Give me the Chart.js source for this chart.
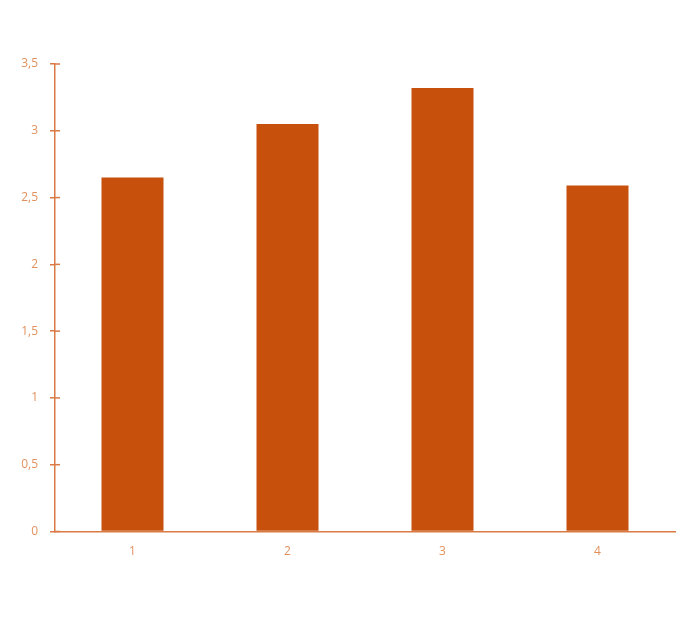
<!DOCTYPE html>
<html>
<head>
<meta charset="utf-8">
<script src="https://cdn.jsdelivr.net/npm/chart.js@4"></script>
<style>
  html, body { margin: 0; padding: 0; background: #fff; }
  canvas { display: block; }
</style>
</head>
<body>
<canvas id="barChart" width="692" height="637"></canvas>
<script>
// Chart values
const categories = ['1', '2', '3', '4'];
const values = [2.65, 3.05, 3.32, 2.59];
const yTicks = [0, 0.5, 1, 1.5, 2, 2.5, 3, 3.5];

const barColor = '#C8500D';
const axisColor = '#DA7A45';
const labelColor = '#E2915E';

// little tick marks on the inside of the y axis too
const innerTicks = {
  id: 'innerTicks',
  afterDraw(chart) {
    const y = chart.scales.y;
    const ctx = chart.ctx;
    ctx.save();
    ctx.strokeStyle = axisColor;
    ctx.lineWidth = 1.5;
    yTicks.forEach(v => {
      const py = y.getPixelForValue(v);
      ctx.beginPath();
      ctx.moveTo(y.right, py);
      ctx.lineTo(y.right + 5, py);
      ctx.stroke();
    });
    ctx.restore();
  }
};

const ctx = document.getElementById('barChart').getContext('2d');
const barChart = new Chart(ctx, {
  type: 'bar',
  data: {
    labels: categories,
    datasets: [{
      data: values,
      backgroundColor: barColor,
      borderWidth: 0,
      categoryPercentage: 1,
      barPercentage: 0.40
    }]
  },
  options: {
    responsive: false,
    animation: false,
    layout: { padding: { top: 64, right: 17, left: 0, bottom: 0 } },
    plugins: { legend: { display: false }, tooltip: { enabled: false } },
    scales: {
      x: {
        grid: { display: false, drawTicks: false },
        border: { color: axisColor, width: 1.5 },
        ticks: {
          color: labelColor,
          font: { family: 'Open Sans', size: 12 },
          padding: 13
        },
        afterFit(scale) { scale.height = 105.5; }
      },
      y: {
        min: 0,
        max: 3.5,
        afterBuildTicks(scale) { scale.ticks = yTicks.map(v => ({ value: v })); },
        grid: { drawOnChartArea: false, drawTicks: true, tickLength: 5, color: axisColor, lineWidth: 1.5 },
        border: { color: axisColor, width: 1.5 },
        ticks: {
          color: labelColor,
          font: { family: 'Open Sans', size: 12 },
          padding: 12,
          callback: v => String(v).replace('.', ',')
        },
        afterFit(scale) { scale.width = 55; }
      }
    }
  },
  plugins: [innerTicks]
});
</script>
</body>
</html>
